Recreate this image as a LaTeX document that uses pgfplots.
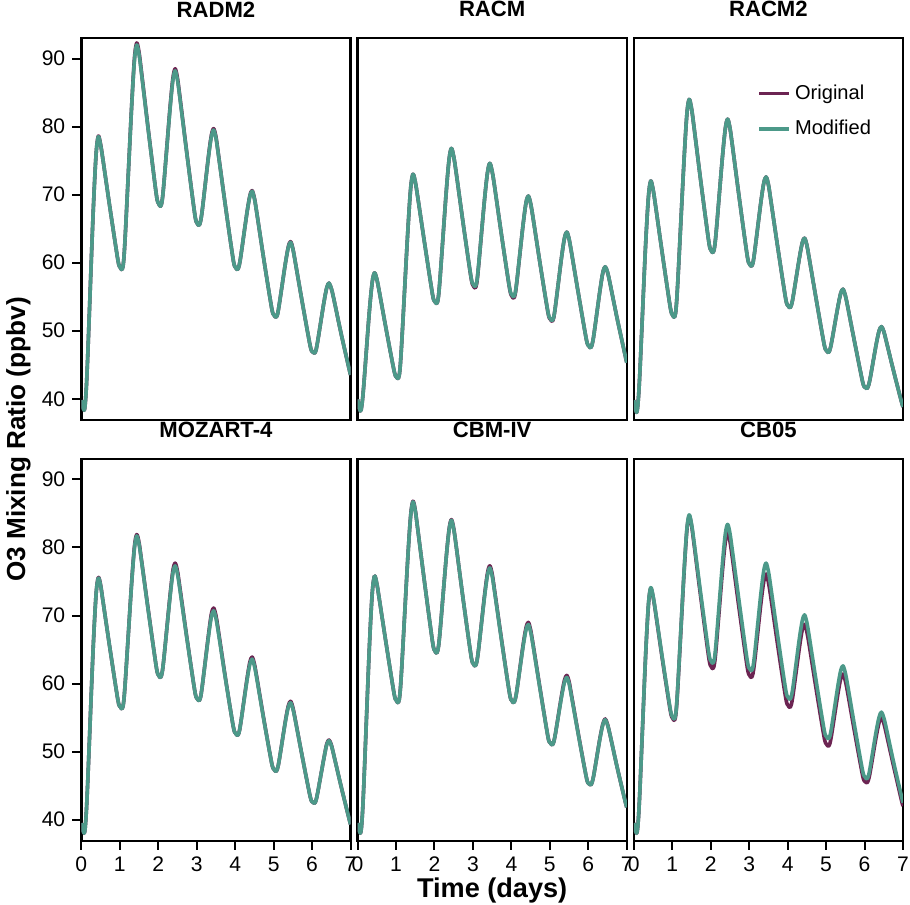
\documentclass[border=0pt]{standalone}
\usepackage{pgfplots}
\pgfplotsset{compat=1.18}
\usepackage{pgfplotstable}
\usepgfplotslibrary{groupplots}
\usetikzlibrary{calc}
\usepackage{fontspec}
\setmainfont{Liberation Sans}
\definecolor{orig}{RGB}{108,36,82}
\definecolor{modi}{RGB}{76,153,137}

\pgfplotstableread{
t o m
0 39.8 39.8
0.07 38.3 38.3
0.11 39.9 39.9
0.16 45.5 45.5
0.30 66.4 66.4
0.38 75.7 75.7
0.44 78.6 78.5
0.50 77.4 77.3
0.56 75.2 75.2
0.75 67.8 67.8
0.95 60.4 60.4
1.01 59.3 59.3
1.06 59.0 59.0
1.10 60.3 60.3
1.15 64.9 64.9
1.30 82.2 82.1
1.38 90.0 89.7
1.44 92.3 92.0
1.50 90.9 90.6
1.56 88.2 88.0
1.75 79.1 79.0
1.95 70.0 70.0
2.01 68.7 68.7
2.06 68.3 68.3
2.10 69.1 69.1
2.15 71.9 71.9
2.30 82.4 82.2
2.38 87.1 86.8
2.44 88.5 88.2
2.50 87.1 86.8
2.56 84.5 84.3
2.75 75.8 75.7
2.95 67.1 67.1
3.01 65.8 65.8
3.06 65.5 65.5
3.10 66.1 66.1
3.15 68.0 68.0
3.30 75.4 75.3
3.38 78.7 78.5
3.44 79.7 79.5
3.50 78.5 78.3
3.56 76.1 76.0
3.75 68.2 68.2
3.95 60.4 60.4
4.01 59.3 59.3
4.06 59.0 59.0
4.10 59.5 59.5
4.15 61.1 61.1
4.30 67.1 67.1
4.38 69.8 69.7
4.44 70.6 70.5
4.50 69.5 69.4
4.56 67.4 67.4
4.75 60.3 60.3
4.95 53.3 53.3
5.01 52.3 52.3
5.06 52.0 52.0
5.10 52.4 52.4
5.15 54.0 54.0
5.30 59.7 59.7
5.38 62.3 62.2
5.44 63.1 63.0
5.50 62.1 62.0
5.56 60.2 60.2
5.75 54.0 54.0
5.95 47.8 47.8
6.01 46.9 46.9
6.06 46.7 46.7
6.10 47.1 47.1
6.15 48.6 48.6
6.30 53.9 53.9
6.38 56.3 56.3
6.44 57.0 57.0
6.50 56.2 56.2
6.56 54.8 54.8
6.75 49.7 49.7
6.95 44.7 44.7
7.00 43.5 43.5
}\radm

\pgfplotstableread{
t o m
0 39.9 39.9
0.07 38.2 38.2
0.11 39.0 39.0
0.16 41.9 41.9
0.30 52.4 52.4
0.38 57.1 57.1
0.44 58.5 58.5
0.50 57.6 57.6
0.56 55.9 55.9
0.75 50.0 50.0
0.95 44.1 44.1
1.01 43.2 43.2
1.06 43.0 43.0
1.10 44.2 44.2
1.15 48.4 48.4
1.30 64.0 64.0
1.38 70.9 70.9
1.44 73.0 73.0
1.50 71.9 71.9
1.56 69.8 69.8
1.75 62.6 62.6
1.95 55.3 55.3
2.01 54.3 54.3
2.06 54.0 54.0
2.10 54.9 54.9
2.15 58.1 58.1
2.30 70.0 70.0
2.38 75.2 75.2
2.44 76.8 76.8
2.50 75.6 75.6
2.56 73.4 73.4
2.75 65.6 65.6
2.95 57.8 57.9
3.01 56.6 56.8
3.06 56.3 56.5
3.10 57.0 57.2
3.15 59.7 59.8
3.30 69.2 69.2
3.38 73.3 73.3
3.44 74.6 74.6
3.50 73.4 73.4
3.56 71.3 71.3
3.75 63.8 63.8
3.95 56.3 56.4
4.01 55.1 55.3
4.06 54.8 55.0
4.10 55.4 55.6
4.15 57.6 57.7
4.30 65.4 65.4
4.38 68.8 68.8
4.44 69.8 69.8
4.50 68.7 68.7
4.56 66.7 66.7
4.75 59.7 59.7
4.95 52.7 52.8
5.01 51.7 51.8
5.06 51.4 51.5
5.10 51.9 52.0
5.15 53.8 53.8
5.30 60.6 60.6
5.38 63.6 63.6
5.44 64.5 64.5
5.50 63.5 63.5
5.56 61.6 61.6
5.75 55.2 55.2
5.95 48.7 48.7
6.01 47.8 47.8
6.06 47.5 47.5
6.10 48.0 48.0
6.15 49.6 49.6
6.30 55.8 55.8
6.38 58.6 58.6
6.44 59.4 59.4
6.50 58.6 58.6
6.56 57.1 57.1
6.75 51.8 51.8
6.95 46.6 46.6
7.00 45.3 45.3
}\racm

\pgfplotstableread{
t o m
0 39.8 39.8
0.07 38.0 38.0
0.11 39.4 39.4
0.16 44.1 44.1
0.30 61.8 61.8
0.38 69.6 69.6
0.44 72.0 72.0
0.50 70.8 70.8
0.56 68.6 68.6
0.75 61.0 61.0
0.95 53.4 53.4
1.01 52.3 52.3
1.06 52.0 52.0
1.10 53.3 53.3
1.15 57.8 57.8
1.30 74.4 74.4
1.38 81.8 81.8
1.44 84.0 84.0
1.50 82.7 82.7
1.56 80.2 80.2
1.75 71.6 71.6
1.95 63.1 63.1
2.01 61.8 61.8
2.06 61.5 61.5
2.10 62.3 62.3
2.15 65.0 65.0
2.30 75.2 75.2
2.38 79.7 79.7
2.44 81.1 81.1
2.50 79.8 79.8
2.56 77.4 77.4
2.75 69.2 69.2
2.95 61.0 61.0
3.01 59.8 59.8
3.06 59.5 59.5
3.10 60.0 60.0
3.15 61.9 61.9
3.30 68.7 68.7
3.38 71.7 71.7
3.44 72.6 72.6
3.50 71.5 71.5
3.56 69.3 69.3
3.75 62.0 62.0
3.95 54.7 54.7
4.01 53.7 53.7
4.06 53.4 53.4
4.10 53.8 53.8
4.15 55.2 55.2
4.30 60.5 60.5
4.38 62.9 62.9
4.44 63.6 63.6
4.50 62.6 62.6
4.56 60.7 60.7
4.75 54.4 54.4
4.95 48.0 48.0
5.01 47.1 47.1
5.06 46.8 46.8
5.10 47.2 47.2
5.15 48.5 48.5
5.30 53.3 53.3
5.38 55.5 55.5
5.44 56.1 56.1
5.50 55.2 55.2
5.56 53.6 53.6
5.75 48.1 48.1
5.95 42.5 42.5
6.01 41.7 41.7
6.06 41.5 41.5
6.10 41.9 41.9
6.15 43.1 43.1
6.30 47.9 47.9
6.38 50.0 50.0
6.44 50.6 50.6
6.50 49.9 49.9
6.56 48.6 48.6
6.75 44.2 44.2
6.95 39.8 39.8
7.00 38.8 38.8
}\racmii

\pgfplotstableread{
t o m
0 39.5 39.5
0.07 38.0 38.0
0.11 39.5 39.5
0.16 44.8 44.8
0.30 64.3 64.3
0.38 72.9 72.9
0.44 75.6 75.5
0.50 74.5 74.4
0.56 72.2 72.2
0.75 64.9 64.9
0.95 57.6 57.6
1.01 56.6 56.6
1.06 56.3 56.3
1.10 57.3 57.3
1.15 60.9 60.9
1.30 74.2 74.1
1.38 80.1 79.9
1.44 81.9 81.7
1.50 80.7 80.5
1.56 78.3 78.2
1.75 70.4 70.3
1.95 62.4 62.4
2.01 61.2 61.2
2.06 60.9 60.9
2.10 61.6 61.6
2.15 63.9 63.9
2.30 72.6 72.4
2.38 76.6 76.2
2.44 77.7 77.3
2.50 76.5 76.1
2.56 74.2 73.9
2.75 66.5 66.4
2.95 58.9 58.9
3.01 57.8 57.8
3.06 57.5 57.5
3.10 58.0 58.0
3.15 59.9 59.9
3.30 66.9 66.7
3.38 70.2 69.8
3.44 71.1 70.7
3.50 70.0 69.6
3.56 67.9 67.6
3.75 60.7 60.6
3.95 53.7 53.7
4.01 52.7 52.7
4.06 52.4 52.4
4.10 52.8 52.8
4.15 54.4 54.4
4.30 60.4 60.2
4.38 63.1 62.8
4.44 63.9 63.6
4.50 62.9 62.6
4.56 61.0 60.8
4.75 54.6 54.5
4.95 48.3 48.3
5.01 47.4 47.4
5.06 47.1 47.1
5.10 47.5 47.5
5.15 48.9 48.9
5.30 54.3 54.2
5.38 56.7 56.5
5.44 57.4 57.2
5.50 56.5 56.3
5.56 54.8 54.7
5.75 49.1 49.1
5.95 43.4 43.4
6.01 42.6 42.6
6.06 42.4 42.4
6.10 42.8 42.8
6.15 44.1 44.1
6.30 48.8 48.8
6.38 51.1 51.0
6.44 51.7 51.6
6.50 51.0 50.9
6.56 49.6 49.6
6.75 45.0 45.0
6.95 40.4 40.4
7.00 39.3 39.3
}\moz

\pgfplotstableread{
t o m
0 39.5 39.5
0.07 38.0 38.0
0.11 39.5 39.5
0.16 44.8 44.8
0.30 64.5 64.5
0.38 73.2 73.2
0.44 75.8 75.8
0.50 74.7 74.7
0.56 72.6 72.6
0.75 65.6 65.6
0.95 58.5 58.5
1.01 57.5 57.5
1.06 57.2 57.2
1.10 58.4 58.4
1.15 62.5 62.5
1.30 77.9 77.9
1.38 84.7 84.6
1.44 86.8 86.7
1.50 85.5 85.4
1.56 82.9 82.9
1.75 74.5 74.5
1.95 66.1 66.1
2.01 64.8 64.8
2.06 64.5 64.5
2.10 65.3 65.3
2.15 68.0 68.0
2.30 78.2 78.2
2.38 82.7 82.6
2.44 84.1 84.0
2.50 82.8 82.7
2.56 80.4 80.4
2.75 72.2 72.2
2.95 64.1 64.1
3.01 62.9 62.9
3.06 62.6 62.6
3.10 63.2 63.2
3.15 65.2 65.2
3.30 72.9 72.7
3.38 76.3 76.0
3.44 77.3 77.0
3.50 76.1 75.8
3.56 73.8 73.6
3.75 66.2 66.1
3.95 58.6 58.6
4.01 57.5 57.5
4.06 57.2 57.2
4.10 57.7 57.7
4.15 59.3 59.3
4.30 65.5 65.3
4.38 68.2 67.9
4.44 69.0 68.7
4.50 67.9 67.6
4.56 65.9 65.7
4.75 59.1 59.0
4.95 52.2 52.2
5.01 51.3 51.3
5.06 51.0 51.0
5.10 51.4 51.4
5.15 52.8 52.8
5.30 58.1 57.9
5.38 60.5 60.2
5.44 61.2 60.9
5.50 60.3 60.0
5.56 58.4 58.2
5.75 52.3 52.2
5.95 46.2 46.2
6.01 45.3 45.3
6.06 45.1 45.1
6.10 45.5 45.5
6.15 46.8 46.8
6.30 51.9 51.8
6.38 54.1 54.0
6.44 54.8 54.7
6.50 54.0 53.9
6.56 52.6 52.6
6.75 47.7 47.7
6.95 42.9 42.9
7.00 41.8 41.8
}\cbm

\pgfplotstableread{
t o m
0 39.5 39.5
0.07 38.0 38.0
0.11 39.4 39.4
0.16 44.5 44.5
0.30 63.2 63.3
0.38 71.5 71.6
0.44 74.0 74.1
0.50 72.8 72.9
0.56 70.7 70.8
0.75 63.3 63.5
0.95 56.0 56.2
1.01 54.9 55.1
1.06 54.6 54.8
1.10 55.8 56.0
1.15 60.0 60.2
1.30 75.6 75.8
1.38 82.5 82.7
1.44 84.6 84.8
1.50 83.3 83.5
1.56 80.8 81.1
1.75 72.3 72.8
1.95 63.8 64.5
2.01 62.5 63.3
2.06 62.2 63.0
2.10 63.0 63.8
2.15 65.8 66.7
2.30 76.2 77.3
2.38 80.8 82.0
2.44 82.2 83.4
2.50 80.9 82.1
2.56 78.6 79.7
2.75 70.5 71.6
2.95 62.4 63.4
3.01 61.2 62.2
3.06 60.9 61.9
3.10 61.5 62.5
3.15 63.6 64.7
3.30 71.5 73.0
3.38 75.0 76.6
3.44 76.1 77.7
3.50 74.9 76.5
3.56 72.8 74.3
3.75 65.3 66.7
3.95 57.9 59.1
4.01 56.8 58.0
4.06 56.5 57.7
4.10 57.0 58.2
4.15 58.7 59.9
4.30 65.0 66.4
4.38 67.9 69.2
4.44 68.7 70.1
4.50 67.6 69.0
4.56 65.7 67.0
4.75 58.9 60.1
4.95 52.1 53.2
5.01 51.1 52.2
5.06 50.8 51.9
5.10 51.2 52.3
5.15 52.7 53.8
5.30 58.2 59.4
5.38 60.7 61.9
5.44 61.4 62.6
5.50 60.4 61.6
5.56 58.7 59.8
5.75 52.6 53.5
5.95 46.5 47.2
6.01 45.6 46.3
6.06 45.4 46.0
6.10 45.8 46.4
6.15 47.1 47.8
6.30 52.1 52.9
6.38 54.3 55.1
6.44 55.0 55.8
6.50 54.2 55.0
6.56 52.8 53.6
6.75 48.0 48.6
6.95 43.1 43.7
7.00 42.0 42.5
}\cbo

\begin{document}
\begin{tikzpicture}
\begin{groupplot}[
  group style={group size=3 by 2, horizontal sep=3.5pt, vertical sep=19.5pt},
  width=134pt, height=190pt, scale only axis,
  xmin=0, xmax=7, ymin=36.9, ymax=93,
  xtick={0,1,...,7}, ytick={40,50,...,90},
  tick pos=left, tick align=outside, major tick length=4.5pt,
  axis line style={line width=1.2pt},
  every tick/.style={black, line width=1pt},
  tick label style={font=\fontsize{10.5}{12}\selectfont},
  /pgf/number format/assume math mode=true,
  title style={font=\bfseries\fontsize{11}{13}\selectfont, at={(0.5,1)}, anchor=south, yshift=1pt},
  every axis plot/.append style={line width=1.8pt, smooth, no markers, line join=round},
]
\nextgroupplot[title={RADM2}, xtick=\empty]
\addplot[orig] table[x=t,y=o] {\radm};
\addplot[modi] table[x=t,y=m] {\radm};
\nextgroupplot[title={RACM}, xtick=\empty, ytick=\empty]
\addplot[orig] table[x=t,y=o] {\racm};
\addplot[modi] table[x=t,y=m] {\racm};
\nextgroupplot[title={RACM2}, xtick=\empty, ytick=\empty,
  legend style={draw=none, fill=none, at={(0.92,0.9)}, anchor=north east,
    font=\fontsize{10}{12}\selectfont, row sep=5pt},
  legend cell align=left,
  legend image code/.code={\draw[#1] (0pt,0pt) -- (15pt,0pt);}]
\addplot[orig] table[x=t,y=o] {\racmii};
\addlegendentry{Original}
\addplot[modi] table[x=t,y=m] {\racmii};
\addlegendentry{Modified}
\nextgroupplot[title={MOZART-4}]
\addplot[orig] table[x=t,y=o] {\moz};
\addplot[modi] table[x=t,y=m] {\moz};
\nextgroupplot[title={CBM-IV}, ytick=\empty]
\addplot[orig] table[x=t,y=o] {\cbm};
\addplot[modi] table[x=t,y=m] {\cbm};
\nextgroupplot[title={CB05}, ytick=\empty]
\addplot[orig] table[x=t,y=o] {\cbo};
\addplot[modi] table[x=t,y=m] {\cbo};
\end{groupplot}
\node[rotate=90, anchor=base, font=\bfseries\fontsize{13}{15}\selectfont]
  at ($($(group c1r1.north west)!0.5!(group c1r2.south west)$)+(-28pt,0)$) {O3 Mixing Ratio (ppbv)};
\node[anchor=base, font=\bfseries\fontsize{13.5}{15}\selectfont]
  at ($(group c2r2.south)+(0,-28.5pt)$) {Time (days)};
\pgfresetboundingbox
\path[use as bounding box] ($(group c1r1.north west)+(-40.5pt,19pt)$) rectangle ($(group c3r2.south east)+(3.5pt,-31.5pt)$);
\end{tikzpicture}
\end{document}
